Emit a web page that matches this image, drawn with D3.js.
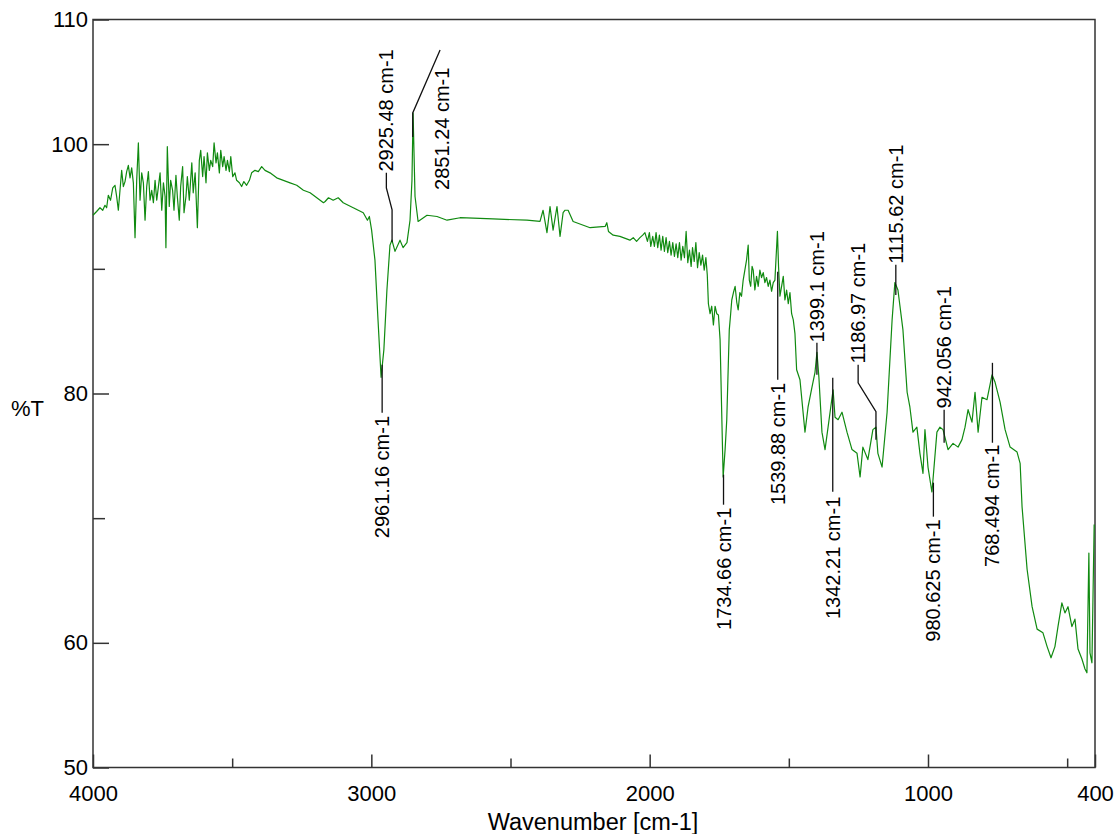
<!DOCTYPE html>
<html><head><meta charset="utf-8">
<script src="https://cdn.jsdelivr.net/npm/d3@7"></script>
<style>body{margin:0;background:#fff} svg{display:block} text{font-family:"Liberation Sans",Arial,sans-serif;fill:#000}</style>
</head><body><svg id="c" width="1114" height="834"></svg>
<script>
const wavenumbers = [4000,3987,3975,3965,3957,3951,3945,3937,3929,3921,3915,3909,3903,3897,3891,3885,3879,3873,3867,3861,3855,3849,3843,3837,3831,3825,3819,3813,3807,3801,3795,3789,3783,3777,3771,3765,3759,3753,3747,3741,3738,3733,3726,3721,3714,3709,3702,3697,3690,3685,3678,3673,3666,3661,3654,3645,3640,3633,3625,3618,3613,3606,3601,3594,3589,3582,3577,3570,3565,3558,3553,3546,3541,3534,3529,3522,3517,3510,3505,3498,3490,3484,3474,3466,3458,3448,3438,3430,3418,3406,3394,3382,3364,3340,3316,3292,3268,3244,3220,3196,3172,3166,3154,3137,3119,3101,3083,3065,3047,3029,3014,3007,2999,
2987,2976,2965,2955,2944,2933,2926,2915,2897,2886,2872,2861,2854,2850,2843,2832,2800,2764,2728,2681,2563,2441,2394,2383,2369,2358,2347,2333,2322,2311,2304,2293,2275,2214,
2160,2154,2148,2131,2107,2083,2071,2059,2047,2035,2025,2017,2008,2001,1996,1989,1983,1977,1971,1965,1959,1953,1947,1941,1935,1929,1923,1917,1911,1905,1899,1893,1887,1881,1875,1869,1863,1857,1851,1846,1840,1834,1828,1822,1816,1810,1804,1798,1793,1789,1783,1777,1771,1765,1759,1753,1747,
1736,1729,1723,1714,1709,1705,1699,1693,1687,1682,1676,1670,1664,1658,1652,1646,1642,1637,1632,1628,1622,1616,1610,1604,1598,1592,1586,1580,1574,1568,1562,1556,1550,1541,1537,1532,1526,1520,1514,1508,1502,1496,1490,1484,1478,1472,1460,
1442,1431,1417,1406,1399,1392,1381,1370,1359,1341,1334,1323,1309,1291,1273,1255,1244,1234,1216,1198,1187,1180,1165,1147,1129,1119,1108,1090,1075,1065,1054,1040,1029,1018,1011,1000,986,982,968,957,946,928,910,892,878,867,856,842,831,820,806,788,770,759,741,723,705,680,669,662,644,626,608,587,572,558,544,533,519,508,497,483,472,461,447,436,429,422,418,411,403];
const transmittance = [94.3,94.6,94.9,94.7,95.1,94.9,95.9,95.5,96.5,96.7,95.8,94.7,96.3,97.9,96.6,97.0,97.8,98.3,97.3,98.1,96.9,92.5,97.1,100.1,95.5,97.7,96.9,93.9,96.6,97.8,95.5,96.3,95.3,97.1,95.5,96.6,97.7,94.7,96.9,95.8,91.7,99.8,95.0,97.1,96.3,94.7,97.5,95.8,93.9,96.6,98.2,94.5,95.8,97.4,95.5,98.5,96.1,97.7,93.3,98.7,99.5,97.4,99.0,96.9,99.3,97.9,98.7,98.2,100.1,98.5,99.3,97.7,99.5,98.2,99.0,97.9,98.7,97.8,99.0,97.4,97.7,97.1,96.9,96.6,97.0,96.7,97.1,97.7,97.9,97.8,98.2,97.9,97.7,97.3,97.1,96.9,96.7,96.3,96.1,95.7,95.3,95.4,95.7,95.5,95.7,95.3,95.1,94.9,94.7,94.5,93.9,94.2,93.1,
90.7,85.9,81.3,83.5,88.3,91.9,92.3,91.4,92.3,91.7,92.1,93.9,97.1,102.5,95.8,93.8,94.3,94.2,93.9,94.1,94.0,93.9,93.8,94.7,92.9,95.0,93.1,95.0,92.6,94.5,94.7,94.7,93.8,93.3,
93.4,93.7,93.0,92.7,92.6,92.4,92.3,92.5,92.2,92.5,92.7,92.9,92.2,92.9,91.8,92.6,91.8,92.9,91.7,92.7,91.5,92.6,91.4,92.5,91.3,92.2,91.1,92.1,91.0,92.0,90.9,92.1,90.7,91.8,90.9,93.0,90.5,91.5,90.2,91.7,90.6,92.1,90.1,91.3,90.3,91.1,89.9,90.9,89.5,87.2,86.4,87.0,85.5,87.0,86.4,86.3,84.3,
73.3,75.5,77.9,85.1,86.4,87.5,88.1,88.6,87.3,86.7,88.1,87.8,89.1,89.9,90.7,91.9,89.1,88.6,90.2,89.9,88.3,89.4,88.6,89.9,89.3,89.7,88.9,89.3,88.6,89.1,88.2,88.9,89.1,93.0,90.2,87.8,88.6,89.4,87.5,88.3,87.2,88.1,86.4,85.9,84.8,81.9,81.1,
76.9,78.9,80.5,81.7,83.3,81.3,76.9,75.5,77.3,80.3,78.1,77.9,78.5,76.9,75.5,75.2,73.3,75.7,74.7,77.1,77.3,75.2,74.1,78.5,85.9,88.9,88.3,85.1,80.1,78.9,76.9,77.3,75.2,73.6,77.1,74.1,72.1,73.1,76.9,77.3,77.1,75.5,76.0,75.7,76.3,77.3,78.7,77.7,80.1,76.9,79.7,79.5,81.5,80.9,79.3,77.1,75.7,75.3,74.4,70.9,65.9,62.9,61.1,60.8,59.7,58.8,59.7,61.3,63.2,62.4,62.9,61.3,61.9,59.5,58.7,57.9,57.6,67.2,59.2,58.4,69.5];

const xMajorTicks = [4000,3000,2000,1000,400];
const xMinorTicks = [3500,2500,1500,500];
const yMajorTicks = [110,100,80,60,50];
const yMinorTicks = [90,70];

const peakLabels = ["2961.16 cm-1","2925.48 cm-1","2851.24 cm-1","1734.66 cm-1","1539.88 cm-1","1399.1 cm-1","1342.21 cm-1","1186.97 cm-1","1115.62 cm-1","942.056 cm-1","980.625 cm-1","768.494 cm-1"];
// leader lines in data units: [wavenumber, %T]
const peakLeaders = [
  [[2961.16,82.3],[2961.16,78.46]],
  [[2925.48,92.16],[2925.48,94.73],[2946,96.49],[2946,97.7]],
  [[2851.24,100.58],[2851.24,102.5],[2753,107.55]],
  [[1734.66,73.49],[1734.66,71.08]],
  [[1539.88,89.76],[1539.88,81.1]],
  [[1399.1,81.5],[1399.1,84.07]],
  [[1342.21,81.26],[1342.21,72.12]],
  [[1186.97,76.29],[1186.97,78.54],[1251,80.86],[1251,82.3]],
  [[1115.62,87.91],[1115.62,90.32]],
  [[942.056,76.05],[942.056,78.7]],
  [[980.625,72.85],[980.625,70.12]],
  [[768.494,82.46],[768.494,76.05]]
];
const peakTextAnchors = [[2961.16,78.2],[2946,97.8],[2747,96.33],[1734.66,70.84],[1539.88,80.86],[1399.1,84.1],[1342.21,71.72],[1251,82.4],[1115.62,90.4],[942.056,78.8],[980.625,69.9],[768.494,75.9]];
const peakTextSides = ["below","above","above","below","below","above","below","above","above","above","below","below"];

const svg = d3.select("#c");
const x = d3.scaleLinear().domain([4000,400]).range([93,1095]);
const y = d3.scaleLinear().domain([50,110]).range([767.5,19.5]);
const [x0,x1] = x.range(), [y0,y1] = y.range();

// axes
const gx = svg.append("g").attr("transform",`translate(0,${y0})`);
gx.call(d3.axisBottom(x).tickValues(xMajorTicks).tickSize(-13).tickSizeOuter(0).tickPadding(18).tickFormat(d3.format("d")));
const gx2 = svg.append("g").attr("transform",`translate(0,${y0})`);
gx2.call(d3.axisBottom(x).tickValues(xMinorTicks).tickSize(-9).tickSizeOuter(0).tickFormat(""));
const gy = svg.append("g").attr("transform",`translate(${x0},0)`);
gy.call(d3.axisLeft(y).tickValues(yMajorTicks).tickSize(-16).tickSizeOuter(0).tickPadding(5).tickFormat(d3.format("d")));
const gy2 = svg.append("g").attr("transform",`translate(${x0},0)`);
gy2.call(d3.axisLeft(y).tickValues(yMinorTicks).tickSize(-12).tickSizeOuter(0).tickFormat(""));
svg.selectAll(".domain").remove();
svg.selectAll(".tick line").attr("stroke","#333").attr("stroke-width",1.5);
svg.selectAll(".tick text").attr("font-size",22).attr("fill","#000").attr("font-family","'Liberation Sans',Arial,sans-serif");

// frame
svg.append("rect").attr("x",x0).attr("y",y1).attr("width",x1-x0).attr("height",y0-y1)
  .attr("fill","none").attr("stroke","#333").attr("stroke-width",1.5);

// titles
svg.append("text").attr("x",593).attr("y",830).attr("text-anchor","middle").attr("font-size",23.5).text("Wavenumber [cm-1]");
svg.append("text").attr("x",11).attr("y",416).attr("font-size",22).text("%T");

// spectrum
const pts = wavenumbers.map((w,i)=>[w,transmittance[i]]);
svg.append("path").datum(pts)
  .attr("fill","none").attr("stroke","#108a10").attr("stroke-width",1.2).attr("stroke-linejoin","round")
  .attr("d", d3.line().x(d=>x(d[0])).y(d=>y(d[1])));

// peak annotations
const leader = d3.line().x(d=>x(d[0])).y(d=>y(d[1]));
peakLabels.forEach((lab,i)=>{
  svg.append("path").attr("d",leader(peakLeaders[i])).attr("fill","none").attr("stroke","#111").attr("stroke-width",1.3);
  const [tw,tt] = peakTextAnchors[i];
  svg.append("text")
    .attr("transform",`translate(${x(tw)},${y(tt)}) rotate(-90)`)
    .attr("text-anchor", peakTextSides[i]==="above" ? "start" : "end")
    .attr("dy","0.35em").attr("font-size",20).text(lab);
});
</script></body></html>
